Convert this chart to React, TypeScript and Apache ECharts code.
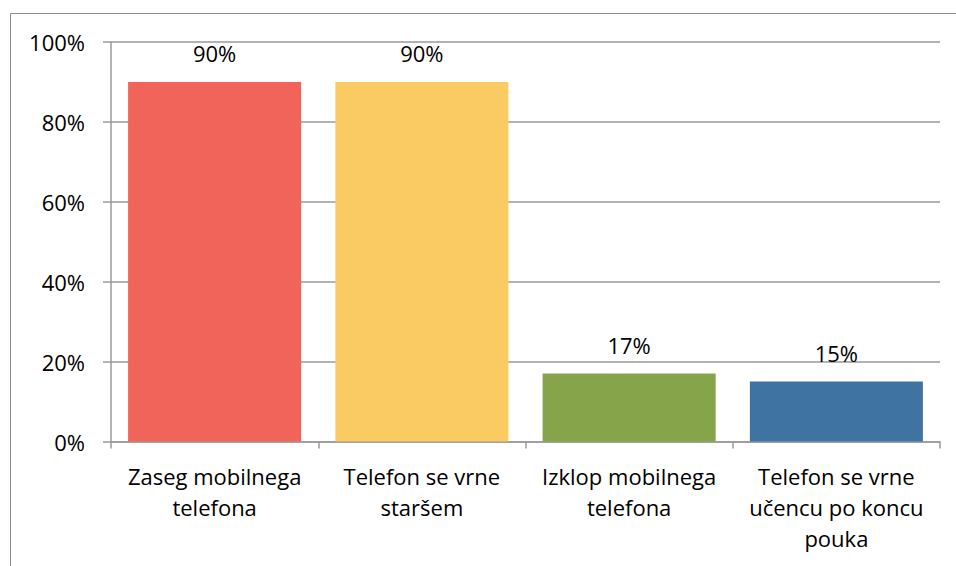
import React, { useEffect, useRef } from "react";
import * as echarts from "echarts";

const categories = [
  "Zaseg mobilnega\ntelefona",
  "Telefon se vrne\nstaršem",
  "Izklop mobilnega\ntelefona",
  "Telefon se vrne\nučencu po koncu\npouka",
];
const values = [90, 90, 17, 15];
const barColors = ["#F06459", "#FBCB63", "#86A54A", "#3F73A2"];
const yTicks = { min: 0, max: 100, interval: 20 };

const FONT = "'Open Sans', sans-serif";

export default function App() {
  const ref = useRef<HTMLDivElement>(null);
  useEffect(() => {
    document.body.style.margin = "0";
    const chart = echarts.init(ref.current!, null, { renderer: "svg" });
    chart.setOption({
      animation: false,
      backgroundColor: "#ffffff",
      textStyle: { fontFamily: FONT },
      graphic: [
        {
          type: "rect",
          shape: { x: 10.5, y: 13.5, width: 1000, height: 700 },
          style: { fill: "none", stroke: "#8c8c8c", lineWidth: 1 },
          silent: true,
        },
      ],
      grid: { left: 111, right: 16, top: 42, bottom: 124.5, containLabel: false },
      xAxis: {
        type: "category",
        data: categories,
        axisLine: { lineStyle: { color: "#9a9a9a", width: 1.5 } },
        axisTick: { show: true, length: 7, lineStyle: { color: "#9a9a9a", width: 1.5 } },
        axisLabel: {
          color: "#000",
          fontFamily: FONT,
          fontSize: 22,
          lineHeight: 31,
          margin: 19,
          interval: 0,
        },
      },
      yAxis: {
        type: "value",
        min: yTicks.min,
        max: yTicks.max,
        interval: yTicks.interval,
        axisLine: { show: true, lineStyle: { color: "#9a9a9a", width: 1.5 } },
        axisTick: { show: true, length: 8, lineStyle: { color: "#9a9a9a", width: 1.5 } },
        splitLine: { lineStyle: { color: "#9a9a9a", width: 1.5 } },
        axisLabel: {
          color: "#000",
          fontFamily: FONT,
          fontSize: 22,
          margin: 26,
          formatter: "{value}%",
        },
      },
      series: [
        {
          type: "bar",
          barCategoryGap: "16.5%",
          data: values.map((v, i) => ({ value: v, itemStyle: { color: barColors[i] } })),
          label: {
            show: true,
            position: "top",
            distance: 18,
            color: "#000",
            fontFamily: FONT,
            fontSize: 22,
            formatter: "{c}%",
          },
        },
      ],
    });
    return () => chart.dispose();
  }, []);
  return <div ref={ref} style={{ width: 956, height: 566 }} />;
}
